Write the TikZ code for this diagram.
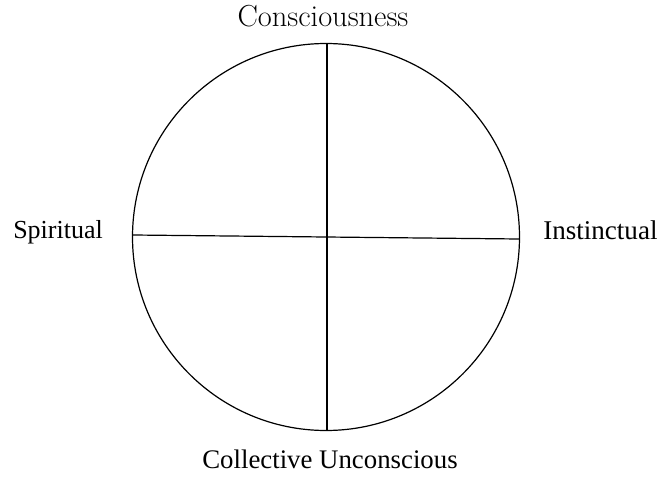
\documentclass[tikz,border=0pt]{standalone}
\usepackage{fontspec}
\setmainfont{Liberation Serif}
\newfontfamily\lmfont{Latin Modern Roman}
\begin{document}
\begin{tikzpicture}[x=0.75pt,y=0.75pt,yscale=-1,xscale=1]
\useasboundingbox (0,0) rectangle (657,485);
\draw [line width=0.9]  (326,237) circle [radius=193.5];
\coordinate (top) at (327,44);
\coordinate (bot) at (327,431);
\coordinate (lft) at (133,235);
\coordinate (rgt) at (519,239);
\draw [line width=0.9]   (top) -- (bot) ;
\draw [line width=0.9]   (lft) -- (rgt) ;
\draw (323,27) node [anchor=base][inner sep=0.75pt]  (consc) {\fontsize{22.8}{27}\selectfont\lmfont Consciousness};
\draw (12,238) node [anchor=base west][inner sep=0.75pt]  (spirit) {\fontsize{19.5}{23}\selectfont Spiritual};
\draw (542,239) node [anchor=base west][inner sep=0.75pt]  (instinct) {\fontsize{20.3}{24}\selectfont Instinctual};
\draw (330,468) node [anchor=base][inner sep=0.75pt]  (collect) {\fontsize{20.1}{24}\selectfont Collective Unconscious};
\end{tikzpicture}
\end{document}
